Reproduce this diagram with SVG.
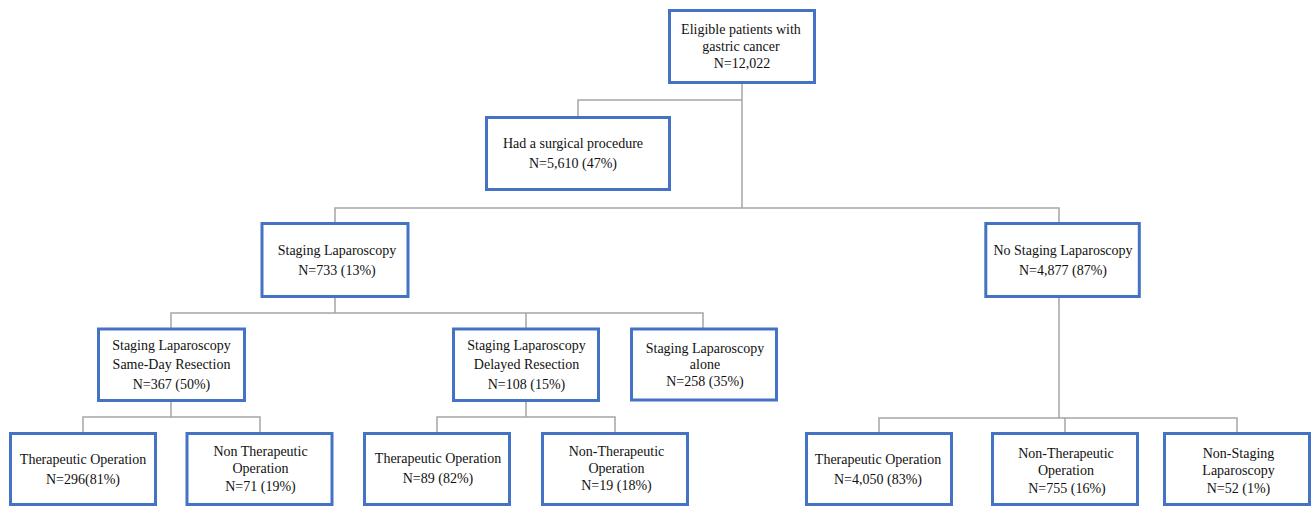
<svg xmlns="http://www.w3.org/2000/svg" width="1312" height="507" viewBox="0 0 1312 507">
<style>
.box{fill:#fff;stroke:#4472C4;stroke-width:3}
.ln{fill:none;stroke:#A5A5A5;stroke-width:1.5}
text{font-family:"Liberation Serif","Times New Roman",serif;font-size:14px;fill:#111;text-anchor:middle}
</style>
<rect width="1312" height="507" fill="#fff"/>
<g id="connectors">
<path class="ln" d="M742,84 V208"/>
<path class="ln" d="M742,100 H578 V117"/>
<path class="ln" d="M335,223 V208 H1059 V223"/>
<path class="ln" d="M335,297 V313"/>
<path class="ln" d="M171,328 V313 H703 V328"/>
<path class="ln" d="M526,313 V328"/>
<path class="ln" d="M171,401 V417"/>
<path class="ln" d="M83,433 V417 H260 V433"/>
<path class="ln" d="M526,401 V417"/>
<path class="ln" d="M437,433 V417 H615 V433"/>
<path class="ln" d="M1059,297 V418"/>
<path class="ln" d="M879,433 V418 H1237 V433"/>
<path class="ln" d="M1065,418 V433"/>
</g>
<g id="eligible">
<rect class="box" x="669.5" y="10.5" width="145" height="72"/>
<text x="741" y="34">Eligible patients with</text>
<text x="741" y="51">gastric cancer</text>
<text x="742" y="68">N=12,022</text>
</g>
<g id="surgical">
<rect class="box" x="486.5" y="117.5" width="183" height="72"/>
<text x="573" y="148">Had a surgical procedure</text>
<text x="573" y="168">N=5,610 (47%)</text>
</g>
<g id="staging">
<rect class="box" x="262" y="223.5" width="146" height="73"/>
<text x="337" y="254.5">Staging Laparoscopy</text>
<text x="337" y="275">N=733 (13%)</text>
</g>
<g id="nostaging">
<rect class="box" x="985.8" y="223.5" width="153.5" height="73"/>
<text x="1063" y="255">No Staging Laparoscopy</text>
<text x="1063" y="275">N=4,877 (87%)</text>
</g>
<g id="sameday">
<rect class="box" x="98.5" y="329" width="146" height="71.5"/>
<text x="171.5" y="349.5">Staging Laparoscopy</text>
<text x="171.5" y="368.5">Same-Day Resection</text>
<text x="171.5" y="389">N=367 (50%)</text>
</g>
<g id="delayed">
<rect class="box" x="453.5" y="329" width="145" height="71.5"/>
<text x="526.5" y="349.5">Staging Laparoscopy</text>
<text x="526.5" y="368.5">Delayed Resection</text>
<text x="526.5" y="389">N=108 (15%)</text>
</g>
<g id="alone">
<rect class="box" x="631.5" y="329" width="145" height="71"/>
<text x="705" y="352.5">Staging Laparoscopy</text>
<text x="705" y="368.5">alone</text>
<text x="705" y="386">N=258 (35%)</text>
</g>
<g id="ther-sameday">
<rect class="box" x="10.5" y="433.5" width="145" height="71"/>
<text x="83" y="464">Therapeutic Operation</text>
<text x="83" y="483.5">N=296(81%)</text>
</g>
<g id="nonther-sameday">
<rect class="box" x="187" y="433.5" width="145" height="71"/>
<text x="260.5" y="456">Non Therapeutic</text>
<text x="260.5" y="473">Operation</text>
<text x="260.5" y="491">N=71 (19%)</text>
</g>
<g id="ther-delayed">
<rect class="box" x="364.5" y="433.5" width="145" height="71"/>
<text x="438" y="463">Therapeutic Operation</text>
<text x="438" y="483">N=89 (82%)</text>
</g>
<g id="nonther-delayed">
<rect class="box" x="542.5" y="433.5" width="145" height="71"/>
<text x="616.5" y="456">Non-Therapeutic</text>
<text x="616.5" y="473">Operation</text>
<text x="616.5" y="490">N=19 (18%)</text>
</g>
<g id="ther-nostaging">
<rect class="box" x="806.5" y="433.5" width="145" height="71"/>
<text x="878" y="464">Therapeutic Operation</text>
<text x="878" y="484">N=4,050 (83%)</text>
</g>
<g id="nonther-nostaging">
<rect class="box" x="992.5" y="433.5" width="145" height="71"/>
<text x="1066" y="457.5">Non-Therapeutic</text>
<text x="1066" y="475">Operation</text>
<text x="1067" y="492.5">N=755 (16%)</text>
</g>
<g id="nonstaging-lap">
<rect class="box" x="1164.5" y="433.5" width="145" height="71"/>
<text x="1238.5" y="457.5">Non-Staging</text>
<text x="1238.5" y="475">Laparoscopy</text>
<text x="1238.5" y="492.5">N=52 (1%)</text>
</g>
</svg>
